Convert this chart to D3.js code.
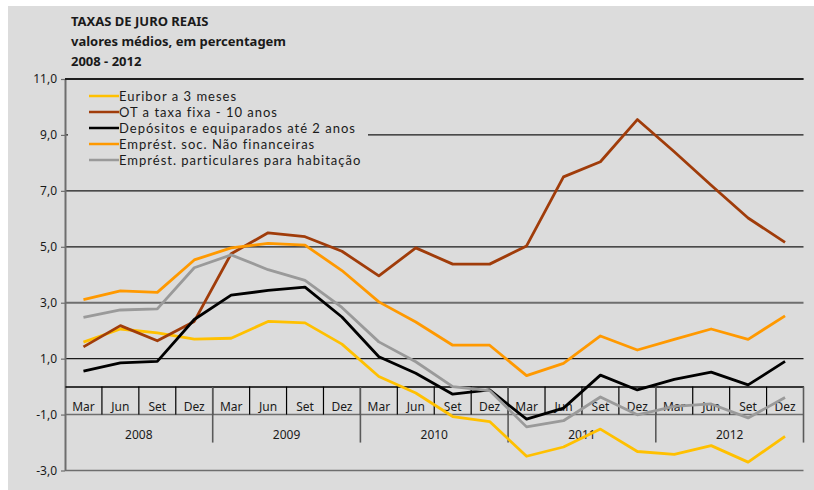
<!DOCTYPE html>
<html>
<head>
<meta charset="utf-8">
<script src="https://cdn.jsdelivr.net/npm/d3@7"></script>
<style>
	body { margin: 0; background: #fff; }
	text { font-family: "Noto Sans", sans-serif; fill: #1a1a1a; }
	.title { font-weight: bold; font-size: 13px; }
	.tick-label { font-size: 12px; }
	.legend-label { font-family: Lato, sans-serif; font-size: 13px; letter-spacing: 1px; }
</style>
</head>
<body>
<div id="svg"></div>
<script>
/* jshint esversion: 6 */

// Data
const quarters = ["Mar", "Jun", "Set", "Dez"];
const years = ["2008", "2009", "2010", "2011", "2012"];
const yTicks = [-3, -1, 1, 3, 5, 7, 9, 11];

const euribor = [1.59, 2.06, 1.92, 1.70, 1.73, 2.33, 2.28, 1.52, 0.36, -0.23, -1.07, -1.25, -2.49, -2.16, -1.52, -2.32, -2.42, -2.11, -2.70, -1.78];
const otTaxaFixa = [1.42, 2.18, 1.64, 2.33, 4.75, 5.50, 5.36, 4.84, 3.96, 4.96, 4.38, 4.38, 5.03, 7.50, 8.04, 9.55, 8.40, 7.20, 6.03, 5.16];
const depositos = [0.55, 0.85, 0.90, 2.40, 3.27, 3.44, 3.56, 2.49, 1.07, 0.48, -0.27, -0.12, -1.16, -0.77, 0.41, -0.12, 0.26, 0.52, 0.06, 0.90];
const emprestSoc = [3.11, 3.42, 3.37, 4.53, 4.96, 5.12, 5.06, 4.15, 3.03, 2.31, 1.48, 1.48, 0.39, 0.83, 1.81, 1.31, 1.69, 2.06, 1.69, 2.53];
const emprestHab = [2.48, 2.74, 2.78, 4.25, 4.71, 4.18, 3.80, 2.83, 1.60, 0.89, 0.00, -0.14, -1.44, -1.22, -0.37, -1.01, -0.71, -0.62, -1.12, -0.39];

const seriesNames = [
	"Euribor a 3 meses",
	"OT a taxa fixa - 10 anos",
	"Depósitos e equiparados até 2 anos",
	"Emprést. soc. Não financeiras",
	"Emprést. particulares para habitação"
];
const seriesColors = ["#ffc000", "#a03c0a", "#000000", "#ff9900", "#9a9a9a"];

(function() {
	function show() {

		// Global constants
		const width = 814, height = 490;
		const plot = {left: 65, right: 803.5, top: 79, bottom: 470.5};

		const categories = [];
		years.forEach(yr => quarters.forEach(q => categories.push(yr + "-" + q)));

		const series = [euribor, otTaxaFixa, depositos, emprestSoc, emprestHab]
			.map((vals, i) => ({
				name: seriesNames[i],
				color: seriesColors[i],
				values: vals.map((v, j) => ({cat: categories[j], value: v}))
			}));

		// Scales
		const x = d3.scaleBand()
			.domain(categories)
			.range([plot.left, plot.right])
			.padding(0);

		const y = d3.scaleLinear()
			.domain([-3, 11])
			.range([plot.bottom, plot.top]);

		const fmt = v => d3.format(".1f")(v).replace(".", ",").replace("−", "-");

		// SVG container
		const svg = d3.select("#svg")
			.append("svg")
				.attr("width", width)
				.attr("height", height);

		// Panel background
		svg.append("rect")
			.attr("x", 8)
			.attr("y", 6)
			.attr("width", width - 8)
			.attr("height", height - 6)
			.attr("fill", "#dcdcdc");

		// Title
		const title = ["TAXAS DE JURO REAIS", "valores médios, em percentagem", "2008 - 2012"];
		svg.append("g")
			.selectAll("text")
			.data(title)
			.enter()
			.append("text")
				.attr("class", "title")
				.attr("x", 71)
				.attr("y", (d, i) => 26 + i * 20)
				.text(d => d);

		/////////////////////////////////////////////////////////////////////////
		// Gridlines
		const grid = svg.append("g");
		grid.selectAll("line")
			.data(yTicks)
			.enter()
			.append("line")
				.attr("x1", plot.left)
				.attr("x2", plot.right)
				.attr("y1", d => y(d))
				.attr("y2", d => y(d))
				.attr("stroke", d => (d === 3 || d < 0) ? "#6e6e6e" : "#1a1a1a")
				.attr("stroke-width", d => d === 3 ? 2 : (d < 0 ? 1.4 : 1.2));

		// Y axis
		const yAxis = svg.append("g")
			.attr("transform", `translate(${plot.left},0)`)
			.call(d3.axisLeft(y)
				.tickValues(yTicks)
				.tickSize(4)
				.tickSizeOuter(0)
				.tickFormat(fmt));
		yAxis.select(".domain").attr("stroke", "#6e6e6e").attr("stroke-width", 2);
		yAxis.selectAll(".tick line").attr("stroke", "#6e6e6e").attr("stroke-width", 1.2);
		yAxis.selectAll(".tick text")
			.attr("class", "tick-label")
			.attr("x", -8)
			.style("font-size", "12px")
			.style("font-family", "'Noto Sans', sans-serif")
			.attr("fill", "#1a1a1a");

		/////////////////////////////////////////////////////////////////////////
		// Category axis at zero
		const y0 = y(0), y1 = y(-1), yYear = y(-1) + 28;
		const xAxis = svg.append("g")
			.attr("transform", `translate(0,${y0})`)
			.call(d3.axisBottom(x)
				.tickSize(0)
				.tickFormat(d => d.split("-")[1]));
		xAxis.select(".domain").attr("stroke", "#000").attr("stroke-width", 1.5);
		xAxis.selectAll(".tick text")
			.attr("y", 24)
			.attr("dy", 0)
			.style("font-size", "12px")
			.style("font-family", "'Noto Sans', sans-serif")
			.attr("fill", "#1a1a1a");

		// Quarter separators
		svg.append("g")
			.selectAll("line")
			.data(categories.slice(1))
			.enter()
			.append("line")
				.attr("x1", d => x(d))
				.attr("x2", d => x(d))
				.attr("y1", y0)
				.attr("y2", y1)
				.attr("stroke", "#000")
				.attr("stroke-width", 1.2);

		// Year separators
		const yearEdges = years.map(yr => x(yr + "-Mar")).concat([plot.right]);
		svg.append("g")
			.selectAll("line")
			.data(yearEdges.slice(1))
			.enter()
			.append("line")
				.attr("x1", d => d)
				.attr("x2", d => d)
				.attr("y1", y0)
				.attr("y2", yYear)
				.attr("stroke", "#5a5a5a")
				.attr("stroke-width", 1.6);

		// Year labels
		svg.append("g")
			.selectAll("text")
			.data(years)
			.enter()
			.append("text")
				.attr("class", "tick-label")
				.attr("x", d => (x(d + "-Mar") + x(d + "-Dez") + x.bandwidth()) / 2)
				.attr("y", 439)
				.style("text-anchor", "middle")
				.text(d => d);

		// Top border
		svg.append("line")
			.attr("x1", plot.left)
			.attr("x2", plot.right)
			.attr("y1", y(11))
			.attr("y2", y(11))
			.attr("stroke", "#000")
			.attr("stroke-width", 1.5);

		/////////////////////////////////////////////////////////////////////////
		// Legend
		const legend = svg.append("g");
		legend.append("rect")
			.attr("x", 68)
			.attr("y", 84)
			.attr("width", 300)
			.attr("height", 86)
			.attr("fill", "#dcdcdc");

		const items = legend.selectAll("g")
			.data(series)
			.enter()
			.append("g")
				.attr("transform", (d, i) => `translate(89, ${96 + i * 16})`);

		items.append("line")
			.attr("x1", 0)
			.attr("x2", 30)
			.attr("stroke", d => d.color)
			.attr("stroke-width", 2.5);

		items.append("text")
			.attr("class", "legend-label")
			.attr("x", 30)
			.attr("dy", "0.35em")
			.text(d => d.name);

		/////////////////////////////////////////////////////////////////////////
		// Lines
		const line = d3.line()
			.x(d => x(d.cat) + x.bandwidth() / 2)
			.y(d => y(d.value));

		svg.append("g")
			.selectAll("path")
			.data(series)
			.enter()
			.append("path")
				.attr("d", d => line(d.values))
				.attr("fill", "none")
				.attr("stroke", d => d.color)
				.attr("stroke-width", 2.8)
				.attr("stroke-linejoin", "round");
	}

	show();
})();
</script>
</body>
</html>
